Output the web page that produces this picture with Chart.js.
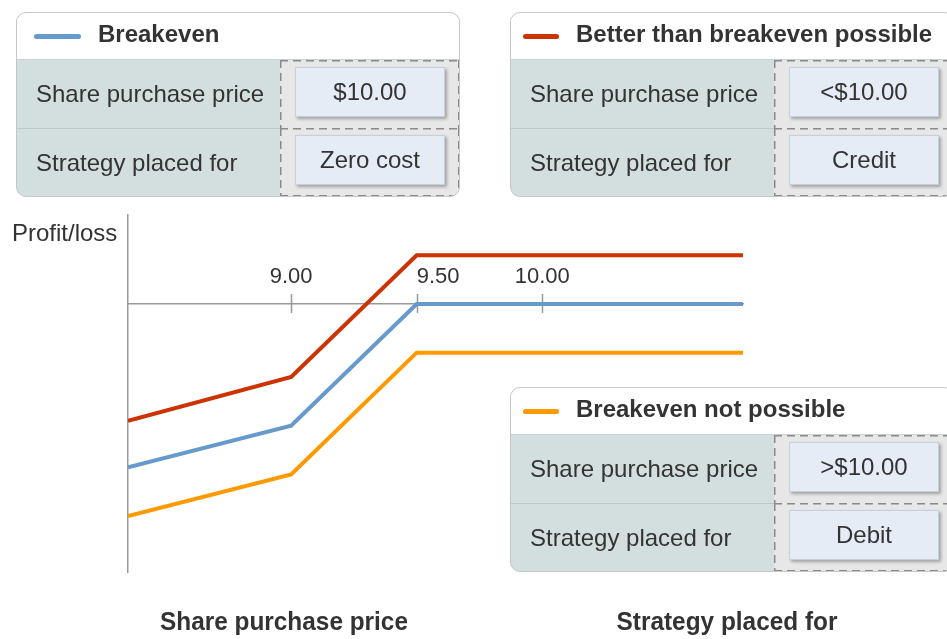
<!DOCTYPE html>
<html>
<head>
<meta charset="utf-8">
<script src="https://cdn.jsdelivr.net/npm/chart.js@4"></script>
<style>
  body { margin: 0; background: #fff; overflow: hidden; }
  #wrap { position: relative; width: 947px; height: 639px; font-family: "Liberation Sans", Arial, sans-serif; color: #333; }
  #chart { position: absolute; left: 0; top: 0; }
  .txt { position: absolute; white-space: nowrap; }
  .axis-name { font-size: 26.5px; font-weight: bold; transform: translateX(-50%) scaleX(0.92); }
  .panel { position: absolute; width: 444px; border: 1px solid #c6c6c6; border-radius: 10px; overflow: hidden; background: #d3dfdf; box-sizing: border-box; }
  .head { position: relative; height: 47px; background: #fff; font-size: 24px; font-weight: bold; line-height: 42px; border-bottom: 1px solid #c9d2d2; box-sizing: border-box; }
  .swatch { position: absolute; top: 21px; height: 5px; border-radius: 3px; }
  .row { display: flex; height: 68px; }
  .lab { width: 263px; padding-left: 19px; font-size: 24px; line-height: 68px; box-sizing: border-box; }
  .row + .row .lab { border-top: 1px solid #bcc8c8; }
  .val { flex: 1; padding: 7px 14px 0 15px; box-sizing: border-box;
    background:
      repeating-linear-gradient(90deg, #8a8a8a 0 8px, transparent 8px 13px) left top / 100% 1.5px no-repeat,
      repeating-linear-gradient(180deg, #8a8a8a 0 8px, transparent 8px 13px) left top / 1.5px 100% no-repeat,
      repeating-linear-gradient(180deg, #8a8a8a 0 8px, transparent 8px 13px) right top / 1.5px 100% no-repeat,
      #e7e7e7; }
  .row:last-child .val {
    background:
      repeating-linear-gradient(90deg, #8a8a8a 0 8px, transparent 8px 13px) left top / 100% 1.5px no-repeat,
      repeating-linear-gradient(90deg, #8a8a8a 0 8px, transparent 8px 13px) left bottom / 100% 1.5px no-repeat,
      repeating-linear-gradient(180deg, #8a8a8a 0 8px, transparent 8px 13px) left top / 1.5px 100% no-repeat,
      repeating-linear-gradient(180deg, #8a8a8a 0 8px, transparent 8px 13px) right top / 1.5px 100% no-repeat,
      #e7e7e7; }
  .btn { width: 150px; height: 50px; background: #e6ecf6; border: 1px solid #c9cfd8; box-shadow: 2px 2px 3px rgba(0,0,0,0.3); text-align: center; font-size: 24px; line-height: 48px; box-sizing: border-box; }
</style>
</head>
<body>
<div id="wrap">
  <canvas id="chart" width="947" height="639"></canvas>
  <div class="txt" style="left:12px; top:219px; font-size:24px;">Profit/loss</div>
  <div class="txt axis-name" style="left:284px; top:606px;">Share purchase price</div>
  <div class="txt axis-name" style="left:727px; top:606px;">Strategy placed for</div>
</div>
<script>
// share price at each corner of the profit/loss lines
var priceX = [8.35, 9.0, 9.5, 10.8];
var breakeven = [-0.67, -0.5, 0, 0];
var betterThan = [-0.48, -0.3, 0.2, 0.2];
var notPossible = [-0.87, -0.7, -0.2, -0.2];
var tickValues = [9.0, 9.5, 10.0];
// 9.50 label sits to the right of its tick, clear of the red line
var tickLabels = ['9.00', '       9.50', '10.00'];

// legend panels
var panelTitles = ["Breakeven", "Better than breakeven possible", "Breakeven not possible"];
var panelColors = ['rgb(102, 153, 204)', 'rgb(204, 51, 0)', 'rgb(255, 153, 0)'];
var rowLabels = ["Share purchase price", "Strategy placed for"];
var priceValues = ["$10.00", "<$10.00", ">$10.00"];
var strategyValues = ["Zero cost", "Credit", "Debit"];
var panelPos = [[16, 12, 17, 47, 81], [510, 12, 12, 36, 65], [510, 387, 12, 36, 65]];

var wrap = document.getElementById('wrap');
panelTitles.forEach(function (title, i) {
  var p = panelPos[i];
  var panel = document.createElement('div');
  panel.className = 'panel';
  panel.style.left = p[0] + 'px';
  panel.style.top = p[1] + 'px';
  var head = document.createElement('div');
  head.className = 'head';
  var sw = document.createElement('span');
  sw.className = 'swatch';
  sw.style.left = p[2] + 'px';
  sw.style.width = p[3] + 'px';
  sw.style.background = panelColors[i];
  head.appendChild(sw);
  var t = document.createElement('span');
  t.style.position = 'absolute';
  t.style.left = p[4] + 'px';
  t.textContent = title;
  head.appendChild(t);
  panel.appendChild(head);
  [priceValues[i], strategyValues[i]].forEach(function (v, r) {
    var row = document.createElement('div');
    row.className = 'row';
    var lab = document.createElement('div');
    lab.className = 'lab';
    lab.textContent = rowLabels[r];
    var val = document.createElement('div');
    val.className = 'val';
    var btn = document.createElement('div');
    btn.className = 'btn';
    btn.textContent = v;
    val.appendChild(btn);
    row.appendChild(lab);
    row.appendChild(val);
    panel.appendChild(row);
  });
  wrap.appendChild(panel);
});

function toPoints(ys) {
  return priceX.map(function (x, i) { return {x: x, y: ys[i]}; });
}

// small tick marks crossing the x axis
var tickMarks = {
  id: 'tickMarks',
  beforeDatasetsDraw: function (chart) {
    var xs = chart.scales.x;
    var y0 = chart.scales.y.getPixelForValue(0);
    var c = chart.ctx;
    c.save();
    c.strokeStyle = '#999';
    c.lineWidth = 1.5;
    c.beginPath();
    xs.ticks.forEach(function (t) {
      var px = Math.round(xs.getPixelForValue(t.value)) + 0.5;
      c.moveTo(px, y0 - 10);
      c.lineTo(px, y0 + 9);
    });
    c.stroke();
    c.restore();
  }
};

var ctx = document.getElementById('chart').getContext('2d');
var chart = new Chart(ctx, {
  type: 'line',
  data: {
    datasets: [{
      label: 'Breakeven not possible',
      data: toPoints(notPossible),
      borderColor: panelColors[2],
      backgroundColor: panelColors[2]
    }, {
      label: 'Breakeven',
      data: toPoints(breakeven),
      borderColor: panelColors[0],
      backgroundColor: panelColors[0]
    }, {
      label: 'Better than breakeven possible',
      data: toPoints(betterThan),
      borderColor: panelColors[1],
      backgroundColor: panelColors[1]
    }]
  },
  options: {
    responsive: false,
    animation: false,
    layout: { padding: { left: 128, top: 215, right: 204, bottom: 67 } },
    elements: {
      line: { borderWidth: 4, tension: 0, fill: false },
      point: { radius: 0, hoverRadius: 0 }
    },
    plugins: { legend: { display: false }, tooltip: { enabled: false } },
    scales: {
      x: {
        type: 'linear',
        position: { y: 0 },
        min: 8.35,
        max: 10.8,
        afterBuildTicks: function (s) {
          s.ticks = tickValues.map(function (v) { return {value: v}; });
        },
        ticks: {
          padding: -40,
          color: '#333',
          font: { family: '"Liberation Sans", Arial', size: 22 },
          maxRotation: 0,
          callback: function (v, i) { return tickLabels[i]; }
        },
        grid: { drawOnChartArea: false, drawTicks: false },
        border: { color: '#999', width: 1.5 }
      },
      y: {
        min: -1.1,
        max: 0.365,
        ticks: { display: false },
        grid: { display: false, drawTicks: false },
        border: { color: '#999', width: 1.5 },
        afterFit: function (s) { s.width = 0; }
      }
    }
  },
  plugins: [tickMarks]
});
</script>
</body>
</html>
